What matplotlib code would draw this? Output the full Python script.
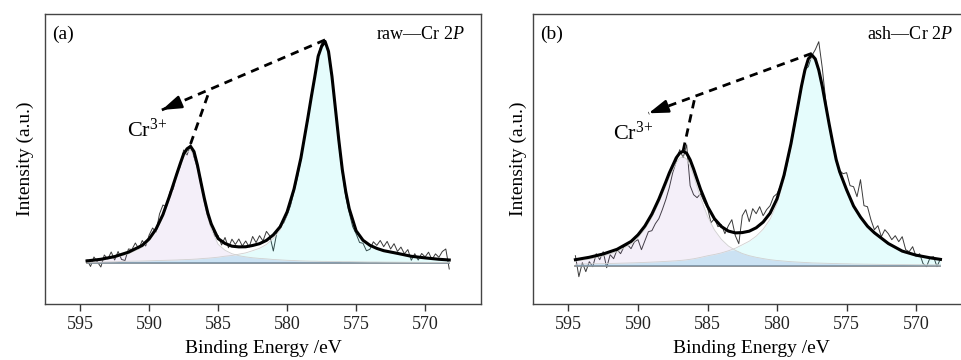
import numpy as np
import matplotlib.pyplot as plt

plt.rcParams['font.family'] = ['Liberation Serif', 'DejaVu Serif']
plt.rcParams['mathtext.fontset'] = 'custom'
plt.rcParams['mathtext.rm'] = 'Liberation Serif'
plt.rcParams['mathtext.it'] = 'Liberation Serif:italic'

# binding energy grid of the fitted components (eV)
be_fit = [594.5, 593.5, 592.5, 591.5, 590.5, 590.0, 589.5, 589.0, 588.5, 588.0,
          587.75, 587.5, 587.25, 587.0, 586.75, 586.5, 586.25, 586.0, 585.75, 585.5,
          585.0, 584.5, 584.0, 583.5, 583.0, 582.5, 582.0, 581.5, 581.0, 580.5,
          580.0, 579.5, 579.0, 578.5, 578.25, 578.0, 577.75, 577.5, 577.25, 577.0,
          576.75, 576.5, 576.25, 576.0, 575.75, 575.5, 575.0, 574.5, 574.0, 573.5,
          573.0, 572.0, 571.0, 570.0, 569.0, 568.25]

# raw spectra start at 594.5 eV, one point every 0.25 eV
raw_start = 594.5
raw_step = 0.25

# (a) raw sample: Cr 2p1/2 and Cr 2p3/2 components, measured counts
p12_a = [1.5, 2.8, 5.2, 9.0, 15.6, 21.9, 31.6, 45.8, 65.0, 85.9,
         96.0, 105.7, 110.7, 113.0, 107.6, 93.8, 76.6, 59.9, 45.2, 33.9,
         18.6, 12.7, 9.3, 7.3, 6.1, 5.2, 4.6, 4.1, 3.5, 3.1,
         2.7, 2.4, 2.1, 1.9, 1.8, 1.8, 1.7, 1.6, 1.6, 1.5,
         1.5, 1.4, 1.4, 1.3, 1.3, 1.3, 1.2, 1.1, 1.0, 1.0,
         0.9, 0.8, 0.7, 0.6, 0.5, 0.5]
p32_a = [0.6, 0.9, 1.2, 1.8, 2.0, 2.2, 2.4, 2.6, 2.8, 3.0,
         3.2, 3.3, 3.5, 3.6, 3.8, 4.0, 4.3, 4.6, 4.8, 5.1,
         5.8, 6.8, 7.5, 8.8, 10.1, 12.3, 14.7, 18.5, 24.6, 33.2,
         48.4, 71.5, 103.0, 143.0, 164.0, 184.0, 205.0, 215.0, 220.0, 210.0,
         185.0, 153.0, 121.0, 92.0, 70.0, 53.0, 31.0, 21.6, 16.7, 13.6,
         11.4, 8.8, 6.0, 4.5, 3.2, 2.5]
raw_a = [3, -3.5, 6, 1, -4, 8, 4, 11, 3, 11.5,
         3.5, 2.5, 14, 13.5, 20, 14, 22.5, 17, 28, 35,
         31, 49, 58, 56, 71, 74, 91, 96, 113, 108,
         118.5, 106, 95, 84, 61.5, 46, 41, 26.7, 27.4, 18,
         25.5, 15.2, 23.8, 18.5, 24, 17, 22, 16, 26.5, 20.4,
         27.3, 22, 31.6, 27, 12, 30, 38, 40, 48, 57.5,
         72, 85.5, 103, 126, 142, 168, 184, 208, 219.6, 222.6,
         209.5, 188.5, 152.4, 118.4, 90.3, 66.3, 50.3, 36.3, 29.2, 20.5,
         19.7, 12.2, 13.7, 21.2, 17.6, 22.5, 16.3, 21.6, 14, 19.3,
         11.6, 15.9, 9.2, 13.4, 2.7, 9.3, 2.9, 9.5, 6.1, 10.8,
         3.4, 9.1, 5.7, 11.5, 14, -6]

# (b) ash sample
p12_b = [4.5, 6.5, 9.6, 14.0, 21.4, 27.8, 36.4, 48.0, 62.6, 79.4,
         88.1, 95.5, 102.9, 107.4, 109.0, 106.5, 99.5, 89.8, 78.8, 68.0,
         49.4, 35.7, 26.3, 19.7, 15.4, 12.2, 10.0, 8.4, 7.1, 6.0,
         5.2, 4.6, 4.0, 3.6, 3.4, 3.2, 3.0, 2.8, 2.7, 2.6,
         2.5, 2.4, 2.3, 2.2, 2.1, 2.0, 1.9, 1.7, 1.6, 1.5,
         1.4, 1.2, 1.1, 1.0, 0.9, 0.8]
p32_b = [1.5, 1.9, 2.1, 2.4, 2.8, 3.0, 3.3, 3.6, 3.9, 4.3,
         4.5, 4.7, 4.9, 5.2, 5.5, 5.9, 6.4, 6.9, 7.6, 8.3,
         9.9, 11.2, 12.8, 14.9, 17.4, 20.9, 24.5, 29.5, 36.5, 46.5,
         61.8, 85.8, 117.9, 156.3, 175.7, 192.3, 203.8, 208.0, 204.0, 193.0,
         177.0, 158.0, 139.0, 121.0, 104.0, 92.0, 74.0, 58.0, 47.0, 38.0,
         31.5, 21.0, 13.5, 9.5, 7.0, 5.5]
raw_b = [10, -11, 3, -6, 4, -1, 12, 6, 14, -2,
         11, 7, 16, 12, 19, 21, 17, 24, 26, 16,
         25, 34, 35, 42, 47, 56, 66, 78, 93, 104,
         116, 108, 121, 80, 71, 68, 72, 64, 58, 43,
         47, 39, 41, 32, 40, 46, 30, 22, 50, 56,
         44, 57, 52, 59, 50, 56, 60, 69, 72, 80,
         88, 103, 121, 138, 158, 177, 196, 199, 210, 216,
         224, 198, 165, 140, 124, 105, 95, 92, 93, 80,
         79, 69, 86, 60, 59, 46, 36, 40, 29, 36,
         32, 26, 30, 24, 29, 16, 14, 19, 9, 12,
         2, -1, 8, 9, -1, 7]

xticks = [595, 590, 585, 580, 575, 570]


def draw_panel(ax, p12, p32, raw, tag, title, xlim, ylim, tip, joint, label_xy, ypad):
    be = np.array(be_fit)
    p12 = np.array(p12)
    p32 = np.array(p32)
    env = p12 + p32
    raw_be = raw_start - raw_step * np.arange(len(raw))

    ax.plot(raw_be, raw, color='#3a3a3a', lw=0.7, zorder=2)
    ax.plot([be[0], be[-1]], [0, 0], color='#8c8c8c', lw=1.3, zorder=2)
    ax.fill_between(be, 0, p12, color=(0.6, 0.4, 0.8), alpha=0.1, lw=0, zorder=3)
    ax.fill_between(be, 0, p32, color=(0.0, 0.9, 0.9), alpha=0.1, lw=0, zorder=3)
    ax.fill_between(be, 0, np.minimum(p12, p32), color=(0.55, 0.7, 0.9),
                    alpha=0.2, lw=0, zorder=3)
    ax.plot(be, p12, color='#d0d0d0', lw=0.6, zorder=3)
    ax.plot(be, p32, color='#d0d0d0', lw=0.6, zorder=3)
    ax.plot(be, env, color='black', lw=2.2, zorder=4)

    # dashed guide from the 2p3/2 maximum towards the Cr3+ label
    top = (be[np.argmax(env)], env.max() + 1.5)
    small = (be[np.argmax(p12)], p12.max() + 6)
    dash = (0, (3, 2.2))
    ax.plot([top[0], tip[0]], [top[1], tip[1]], ls=dash, color='k', lw=2.0, zorder=5)
    ax.plot([small[0], joint[0]], [small[1], joint[1]], ls=dash, color='k', lw=2.0, zorder=5)
    back = (tip[0] + 0.09 * (top[0] - tip[0]), tip[1] + 0.09 * (top[1] - tip[1]))
    ax.annotate('', xy=tip, xytext=back,
                arrowprops=dict(arrowstyle='-|>,head_length=0.9,head_width=0.3',
                                color='k', lw=1.8, shrinkA=0, shrinkB=0,
                                mutation_scale=13), zorder=5)
    ax.text(label_xy[0], label_xy[1], r'Cr$^{3{+}}$', fontsize=16, ha='left', va='baseline')

    ax.text(0.016, 0.93, tag, transform=ax.transAxes, fontsize=14, ha='left', va='center')
    ax.text(0.963, 0.93, title, transform=ax.transAxes, fontsize=13, ha='right', va='center')

    ax.set_xlim(*xlim)
    ax.set_ylim(*ylim)
    ax.set_xticks(xticks)
    ax.set_yticks([])
    ax.tick_params(axis='x', direction='out', length=5, width=1, labelsize=13, pad=4,
                   color='#333333', labelcolor='#222222')
    for s in ax.spines.values():
        s.set_color('#444444')
        s.set_linewidth(1.0)
    ax.set_xlabel('Binding Energy /eV', fontsize=14, labelpad=5)
    ax.set_ylabel('Intensity (a.u.)', fontsize=14, labelpad=ypad)


fig = plt.figure(figsize=(9.61, 3.6), dpi=100)
ax1 = fig.add_axes([0.0468, 0.1556, 0.4537, 0.8056])
ax2 = fig.add_axes([0.5546, 0.1556, 0.4537, 0.8056])

draw_panel(ax1, p12_a, p32_a, raw_a, '(a)', r'raw—Cr 2$P$',
           (597.55, 565.95), (-41, 249),
           tip=(589.08, 153), joint=(585.63, 172.3), label_xy=(591.6, 126), ypad=8)
draw_panel(ax2, p12_b, p32_b, raw_b, '(b)', r'ash—Cr 2$P$',
           (597.55, 566.2), (-38.3, 251.7),
           tip=(589.24, 152.4), joint=(585.88, 170), label_xy=(591.76, 125.7), ypad=4)

fig.savefig('out.png', dpi=100)
